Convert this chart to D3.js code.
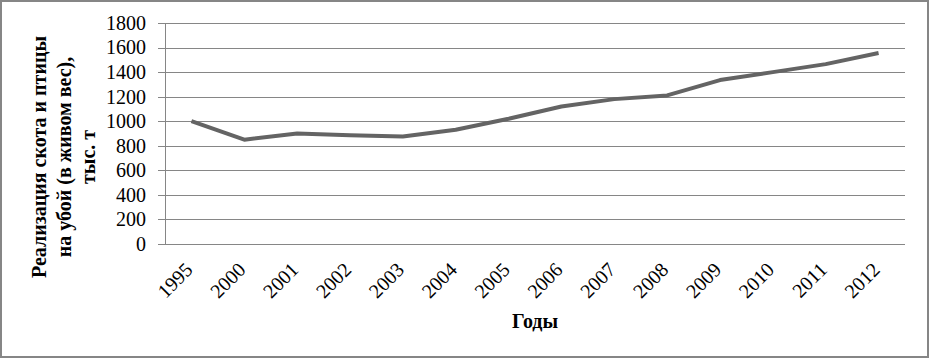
<!DOCTYPE html>
<html>
<head>
<meta charset="utf-8">
<script src="https://cdn.jsdelivr.net/npm/d3@7"></script>
<style>
    body { margin: 0; background: #fff; }
    svg text { font-family: 'Liberation Serif', 'Times New Roman', serif; }
</style>
</head>
<body>
<svg id="chart"></svg>
<script>
// data
const years = ['1995', '2000', '2001', '2002', '2003', '2004', '2005', '2006', '2007', '2008', '2009', '2010', '2011', '2012'];
const values = [1000, 850, 900, 885, 875, 930, 1020, 1120, 1180, 1210, 1335, 1400, 1465, 1555];
const yTicks = [0, 200, 400, 600, 800, 1000, 1200, 1400, 1600, 1800];
const yTitle = ['Реализация скота и птицы', 'на убой (в живом вес),', 'тыс. т'];
const xTitle = 'Годы';

const config = {
    width: 930,
    height: 359,
    margin: { top: 23, right: 25, bottom: 115, left: 165 }
};

const width = config.width - config.margin.left - config.margin.right;
const height = config.height - config.margin.top - config.margin.bottom;

const svg = d3.select('#chart')
    .attr('width', config.width)
    .attr('height', config.height);

// outer frame
svg.append('rect')
    .attr('x', 1)
    .attr('y', 1)
    .attr('width', config.width - 3)
    .attr('height', config.height - 3)
    .attr('fill', '#fff')
    .attr('stroke', '#868686')
    .attr('stroke-width', 2);

const chart = svg.append('g')
    .attr('transform', `translate(${config.margin.left}, ${config.margin.top})`);

// scales
let x = d3.scalePoint()
    .domain(years)
    .range([0, width])
    .padding(0.5);

let y = d3.scaleLinear()
    .domain([0, 1800])
    .range([height, 0]);

// gridlines
chart.append('g')
    .attr('class', 'grid')
    .call(d3.axisLeft(y).tickValues(yTicks).tickSize(-width).tickFormat(''))
    .call(g => g.select('.domain').remove())
    .call(g => g.selectAll('line').attr('stroke', '#868686').attr('shape-rendering', 'crispEdges'));

// y axis
chart.append('g')
    .attr('class', 'y-axis')
    .call(d3.axisLeft(y).tickValues(yTicks).tickFormat(d3.format('d'))
        .tickSizeInner(7).tickSizeOuter(0).tickPadding(12))
    .call(g => g.select('.domain').attr('stroke', '#868686').attr('shape-rendering', 'crispEdges'))
    .call(g => g.selectAll('line').attr('stroke', '#868686').attr('shape-rendering', 'crispEdges'))
    .call(g => g.selectAll('text')
        .style('font-size', '20px')
        .attr('fill', '#000'));

// x axis labels (no tick marks)
chart.append('g')
    .attr('class', 'x-axis')
    .attr('transform', `translate(0, ${height})`)
    .call(d3.axisBottom(x).tickSize(0))
    .call(g => g.select('.domain').remove())
    .call(g => g.selectAll('text')
        .style('font-size', '20px')
        .attr('fill', '#000')
        .attr('dy', null)
        .attr('y', null)
        .attr('text-anchor', 'end')
        .attr('transform', 'translate(2, 27) rotate(-45)'));

// line
const line = d3.line()
    .x((d, i) => x(years[i]))
    .y(d => y(d));

chart.append('path')
    .datum(values)
    .attr('fill', 'none')
    .attr('stroke', '#646464')
    .attr('stroke-width', 4)
    .attr('stroke-linejoin', 'round')
    .attr('d', line);

// axis titles
svg.append('text')
    .attr('x', config.margin.left + width / 2)
    .attr('y', 328)
    .attr('text-anchor', 'middle')
    .style('font-size', '20px')
    .attr('font-weight', 'bold')
    .text(xTitle);

svg.append('text')
    .attr('transform', 'translate(46, 157) rotate(-90)')
    .attr('text-anchor', 'middle')
    .style('font-size', '20px')
    .attr('font-weight', 'bold')
    .selectAll('tspan')
    .data(yTitle)
    .join('tspan')
    .attr('x', 0)
    .attr('dy', (d, i) => i === 0 ? 0 : 24.5)
    .text(d => d);
</script>
</body>
</html>
